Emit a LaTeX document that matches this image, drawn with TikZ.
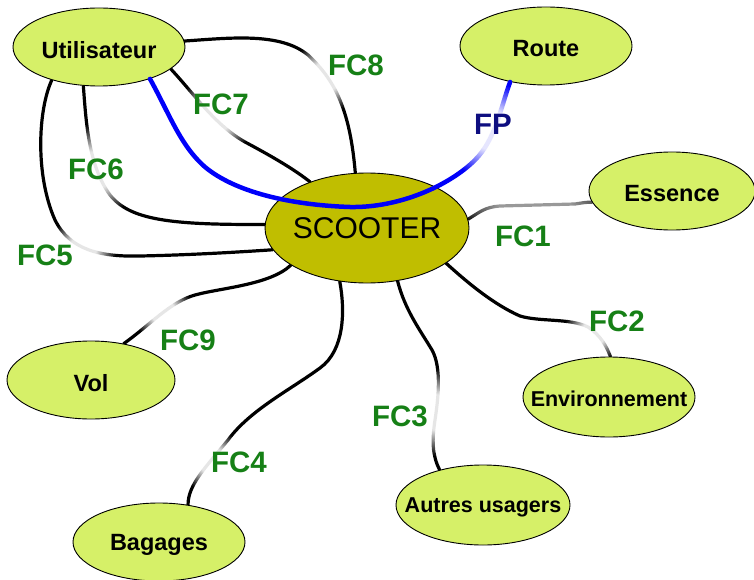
\documentclass[tikz,border=0pt]{standalone}
\usepackage{fontspec}
\setmainfont{Liberation Sans}
\usetikzlibrary{shapes.geometric,fadings}

\definecolor{leafgreen}{RGB}{214,240,104}
\definecolor{scooterolive}{RGB}{192,190,0}
\definecolor{fcgreen}{RGB}{22,128,22}
\definecolor{fpnavy}{RGB}{14,14,128}
\definecolor{fpblue}{RGB}{0,0,250}

% soft round mask: opaque core, fading towards the rim
\pgfdeclareradialshading{halofade}{\pgfpointorigin}{color(0bp)=(white); color(10bp)=(white); color(25bp)=(black); color(50bp)=(black)}
\pgfdeclarefading{halo}{\pgfuseshading{halofade}}

\pgfdeclarelayer{back}
\pgfdeclarelayer{haze}
\pgfdeclarelayer{front}
\pgfsetlayers{back,haze,main,front}

\begin{document}
\begin{tikzpicture}[x=1pt,y=-1pt,
  leaf/.style={ellipse, draw=black, line width=0.9pt, fill=leafgreen, inner sep=0pt},
  leaftext/.style={font=\fontsize{23.5}{24}\selectfont\bfseries, text=black, yshift=-3pt},
  smalltext/.style={font=\fontsize{21.5}{22}\selectfont\bfseries, text=black, yshift=-2pt},
  hub/.style={ellipse, draw=black, line width=0.9pt, fill=scooterolive, inner sep=0pt},
  conn/.style={draw=black, line width=3.2pt, line cap=round},
  bluelink/.style={draw=fpblue, line width=4.5pt, line cap=round},
  fc/.style={font=\fontsize{29.5}{30}\selectfont\bfseries, text=fcgreen, inner sep=0pt},
  fp/.style={font=\fontsize{29.5}{30}\selectfont\bfseries, text=fpnavy, inner sep=0pt},
  mist/.style={fill=white, fill opacity=0.9, path fading=halo}]

\useasboundingbox (0,0) rectangle (754,580);

% ---- ellipses ----
\node[hub, minimum width=204pt, minimum height=110pt,
      label={[font=\fontsize{30}{30}\selectfont]center:SCOOTER}] (scooter) at (367,228) {};
\node[leaf, minimum width=172pt, minimum height=78pt, label={[leaftext]center:Utilisateur}] (util) at (99,47) {};
\node[leaf, minimum width=172pt, minimum height=78pt, label={[leaftext]center:Route}] (route) at (546,46) {};
\node[leaf, minimum width=166pt, minimum height=78pt, label={[leaftext]center:Essence}] (essence) at (672,191) {};
\node[leaf, minimum width=168pt, minimum height=78pt, label={[leaftext]center:Vol}] (vol) at (91,380) {};
\node[leaf, minimum width=172pt, minimum height=78pt, label={[leaftext]center:Bagages}] (bagages) at (159,542) {};
\node[leaf, minimum width=172pt, minimum height=80pt, label={[smalltext]center:Environnement}] (env) at (609,397) {};
\node[leaf, minimum width=174pt, minimum height=80pt, label={[smalltext]center:Autres usagers}] (autres) at (483,505) {};

% ---- function labels ----
\begin{pgfonlayer}{front}
\node[fc] (fc1) at (523,236) {FC1};
\node[fc] (fc2) at (617,321) {FC2};
\node[fc] (fc3) at (400,416) {FC3};
\node[fc] (fc4) at (239,462) {FC4};
\node[fc] (fc5) at (45,255) {FC5};
\node[fc] (fc6) at (96,169) {FC6};
\node[fc] (fc7) at (221,104) {FC7};
\node[fc] (fc8) at (356,65) {FC8};
\node[fc] (fc9) at (188,340) {FC9};
\end{pgfonlayer}

% ---- black connectors ----
\begin{pgfonlayer}{back}
% FC8
\draw[conn] (util.4) .. controls (230,38) and (280,32) .. (308,55)
  .. controls (335,80) and (350,110) .. (scooter.102);
% FC7
\draw[conn] (util.-17) .. controls (195,95) and (215,125) .. (245,142)
  .. controls (275,158) and (295,170) .. (scooter.141);
% FC6
\draw[conn] (util.-112) .. controls (86,120) and (88,165) .. (110,195)
  .. controls (130,220) and (170,225) .. (scooter.178);
% FC5
\draw[conn] (util.-145) .. controls (38,110) and (35,175) .. (55,220)
  .. controls (70,250) and (100,257) .. (140,256)
  .. controls (190,255) and (240,252) .. (scooter.-167);
% FC9
\draw[conn] (scooter.-154) .. controls (270,285) and (220,288) .. (195,295)
  .. controls (170,302) and (150,325) .. (vol.48);
% FC4
\draw[conn] (scooter.-117) .. controls (345,310) and (345,350) .. (320,368)
  .. controls (290,390) and (250,410) .. (228,440)
  .. controls (205,468) and (188,485) .. (bagages.52);
% FC3
\draw[conn] (scooter.-60) .. controls (405,310) and (420,330) .. (432,350)
  .. controls (442,368) and (438,400) .. (435,420)
  .. controls (432,440) and (432,455) .. (autres.141);
% FC2
\draw[conn] (scooter.-24) .. controls (470,285) and (495,305) .. (520,316)
  .. controls (540,322) and (570,318) .. (588,327)
  .. controls (600,335) and (606,345) .. (env.88);
% FC1
\draw[conn] (scooter.5) .. controls (480,212) and (485,207) .. (500,206)
  -- (575,204) .. controls (582,203) and (586,202) .. (essence.-172);
\end{pgfonlayer}

% ---- soft fading of the connectors near their labels ----
\begin{pgfonlayer}{haze}
\fill[mist] (326,76) circle (36pt);
\fill[mist] (214,117) circle (40pt);
\fill[mist] (95,170) circle (46pt);
\fill[mist] (82,250) circle (34pt);
\fill[mist] (163,312) circle (30pt);
\fill[mist] (212,461) circle (32pt);
\fill[mist] (436,412) circle (44pt);
\fill[mist] (593,333) circle (30pt);
\fill[mist, fill opacity=0.6] (535,206) ellipse [x radius=90pt, y radius=24pt];
\end{pgfonlayer}

% ---- main function (drawn across the hub) ----
\begin{pgfonlayer}{front}
\draw[bluelink] (util.-32) .. controls (170,115) and (180,145) .. (205,167)
  .. controls (235,192) and (290,205) .. (350,207)
  .. controls (400,208) and (450,185) .. (475,160)
  .. controls (495,140) and (500,110) .. (route.-135);
\fill[mist] (490,130) circle (48pt);
\node[fp] (fp) at (493,124) {FP};
\end{pgfonlayer}

\end{tikzpicture}
\end{document}
